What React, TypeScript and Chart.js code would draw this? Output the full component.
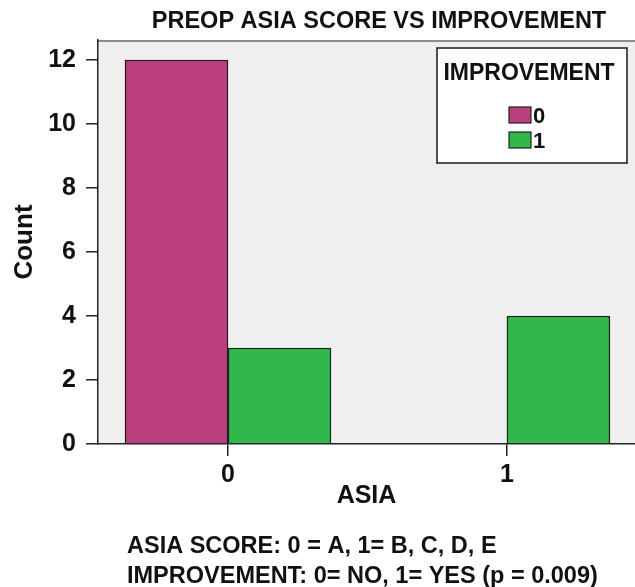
import React, { useEffect, useRef } from 'react';
import { Chart, registerables } from 'chart.js';

Chart.register(...registerables);

// ---- data ----
const categories = ['0', '1'];
const seriesLabels = ['0', '1'];
const improvementNo = [12, 0];
const improvementYes = [3, 4];
const yTicks = [0, 2, 4, 6, 8, 10, 12];
const chartTitle = 'PREOP ASIA SCORE VS IMPROVEMENT';
const xTitle = 'ASIA';
const yTitle = 'Count';
const legendTitle = 'IMPROVEMENT';
const footnotes = ['ASIA SCORE: 0 = A, 1= B, C, D, E', 'IMPROVEMENT: 0= NO, 1= YES (p = 0.009)'];

const FONT = '"Liberation Sans", Arial, Helvetica, sans-serif';
const MAGENTA = '#bb3f7c';
const GREEN = '#2fb74a';
const INK = '#111111';

const decorPlugin = {
  id: 'decor',
  beforeDraw(chart: any) {
    const { ctx, chartArea } = chart;
    ctx.save();
    ctx.fillStyle = '#efefef';
    ctx.fillRect(chartArea.left, chartArea.top, chartArea.right - chartArea.left, chartArea.bottom - chartArea.top);
    ctx.strokeStyle = '#8c8c8c';
    ctx.lineWidth = 2;
    ctx.beginPath();
    ctx.moveTo(chartArea.left, chartArea.top + 1);
    ctx.lineTo(chartArea.right, chartArea.top + 1);
    ctx.stroke();
    ctx.restore();
  },
  afterDraw(chart: any) {
    const { ctx } = chart;
    ctx.save();
    ctx.fillStyle = INK;
    ctx.textBaseline = 'alphabetic';
    // title
    ctx.font = `bold 23.5px ${FONT}`;
    ctx.textAlign = 'center';
    ctx.fillText(chartTitle, 379, 28);
    // footnotes
    ctx.font = `bold 23.5px ${FONT}`;
    ctx.textAlign = 'left';
    footnotes.forEach((line, i) => ctx.fillText(line, 127, 553 + i * 30));
    // legend box
    const bx = 437, by = 48, bw = 190, bh = 115;
    ctx.fillStyle = '#ffffff';
    ctx.fillRect(bx, by, bw, bh);
    ctx.strokeStyle = '#1a1a1a';
    ctx.lineWidth = 1.5;
    ctx.strokeRect(bx, by, bw, bh);
    ctx.fillStyle = INK;
    ctx.font = `bold 23px ${FONT}`;
    ctx.textAlign = 'center';
    ctx.fillText(legendTitle, 529, 80);
    ctx.font = `bold 22px ${FONT}`;
    ctx.textAlign = 'left';
    chart.data.datasets.forEach((ds: any, i: number) => {
      const sy = 107 + i * 25;
      ctx.fillStyle = ds.backgroundColor;
      ctx.fillRect(509, sy, 22, 16);
      ctx.strokeStyle = '#222';
      ctx.lineWidth = 1.2;
      ctx.strokeRect(509, sy, 22, 16);
      ctx.fillStyle = INK;
      ctx.fillText(ds.label, 533, sy + 16);
    });
    ctx.restore();
  },
};

export default function App() {
  const ref = useRef<HTMLCanvasElement | null>(null);

  useEffect(() => {
    if (!ref.current) return;
    const chart = new Chart(ref.current, {
      type: 'bar',
      data: {
        labels: categories,
        datasets: [
          {
            label: seriesLabels[0],
            data: improvementNo,
            backgroundColor: MAGENTA,
            borderColor: '#2a1a22',
            borderWidth: 1.5,
            barThickness: 103,
          },
          {
            label: seriesLabels[1],
            data: improvementYes,
            backgroundColor: GREEN,
            borderColor: '#14301a',
            borderWidth: 1.5,
            barThickness: 103,
          },
        ],
      },
      options: {
        animation: false,
        responsive: true,
        maintainAspectRatio: false,
        devicePixelRatio: 1,
        layout: { padding: { top: 40, right: 0, left: 0, bottom: 76 } },
        plugins: {
          legend: { display: false },
          title: { display: false },
          tooltip: { enabled: false },
        },
        scales: {
          x: {
            type: 'linear',
            offset: false,
            min: -0.466,
            max: 1.459,
            afterBuildTicks: (s: any) => {
              s.ticks = categories.map((c) => ({ value: Number(c) }));
            },
            afterFit: (s: any) => {
              s.height = 67;
            },
            ticks: {
              callback: (v: any) => String(v),
              font: { family: FONT, size: 25, weight: 'bold' },
              color: INK,
              padding: 4,
              maxRotation: 0,
              autoSkip: false,
            },
            grid: { offset: false, drawOnChartArea: false, drawTicks: true, tickLength: 12, color: '#222', lineWidth: 1.5 },
            border: { display: true, color: '#222', width: 1.5 },
            title: {
              display: true,
              text: xTitle,
              font: { family: FONT, size: 25, weight: 'bold' },
              color: INK,
              padding: 0,
            },
          },
          y: {
            min: 0,
            max: 12.625,
            afterBuildTicks: (s: any) => {
              s.ticks = yTicks.map((v) => ({ value: v }));
            },
            afterFit: (s: any) => {
              s.width = 98;
            },
            ticks: {
              font: { family: FONT, size: 25, weight: 'bold' },
              color: INK,
              padding: 10,
            },
            grid: { drawOnChartArea: false, drawTicks: true, tickLength: 12, color: '#222', lineWidth: 1.5 },
            border: { display: true, color: '#222', width: 1.5 },
            title: {
              display: true,
              text: yTitle,
              font: { family: FONT, size: 26, weight: 'bold' },
              color: INK,
              padding: { top: 9, bottom: 0 },
            },
          },
        },
      } as any,
      plugins: [decorPlugin],
    });
    return () => chart.destroy();
  }, []);

  return (
    <div style={{ position: 'absolute', left: 0, top: 0, width: 635, height: 587, overflow: 'hidden', background: '#fff' }}>
      <canvas ref={ref} />
    </div>
  );
}
